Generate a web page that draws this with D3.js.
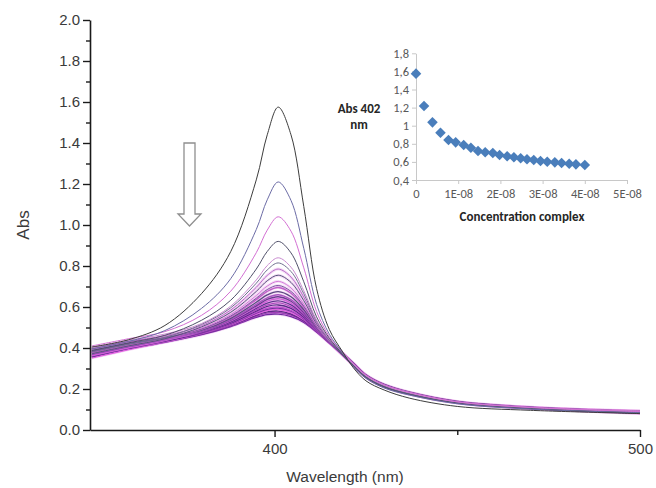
<!DOCTYPE html>
<html><head><meta charset="utf-8">
<script src="https://cdn.jsdelivr.net/npm/d3@7/dist/d3.min.js"></script>
<style>body{margin:0;background:#fff}svg{display:block}</style>
</head><body><svg id="c" width="656" height="488"></svg>
<script>
// ---------- data ----------
const wavelengths = [350,360,370,380,388,395,398,401,404.5,408,411.5,415,418.5,421.5,425,430,437,450,470,500];
const spectra = [
 [0.405,0.440,0.510,0.665,0.870,1.220,1.440,1.575,1.440,1.090,0.690,0.490,0.385,0.305,0.240,0.195,0.155,0.115,0.096,0.080],
 [0.395,0.432,0.485,0.593,0.738,0.978,1.123,1.210,1.120,0.886,0.613,0.467,0.380,0.310,0.252,0.205,0.170,0.128,0.102,0.084],
 [0.410,0.445,0.480,0.559,0.677,0.865,0.975,1.040,0.970,0.791,0.578,0.456,0.381,0.325,0.267,0.220,0.183,0.137,0.110,0.090],
 [0.388,0.425,0.462,0.535,0.633,0.785,0.871,0.920,0.864,0.723,0.552,0.448,0.372,0.315,0.257,0.210,0.174,0.132,0.105,0.082],
 [0.402,0.438,0.468,0.519,0.604,0.732,0.802,0.840,0.794,0.679,0.536,0.443,0.377,0.323,0.265,0.218,0.181,0.136,0.109,0.092],
 [0.380,0.418,0.452,0.515,0.596,0.716,0.781,0.815,0.773,0.665,0.531,0.441,0.372,0.318,0.260,0.213,0.176,0.133,0.106,0.086],
 [0.398,0.433,0.460,0.509,0.585,0.696,0.754,0.785,0.746,0.648,0.524,0.439,0.378,0.326,0.268,0.221,0.183,0.138,0.111,0.089],
 [0.372,0.410,0.445,0.503,0.574,0.676,0.728,0.755,0.720,0.631,0.518,0.437,0.370,0.317,0.259,0.212,0.175,0.133,0.106,0.080],
 [0.392,0.428,0.455,0.497,0.563,0.656,0.702,0.725,0.693,0.614,0.511,0.435,0.374,0.322,0.264,0.217,0.180,0.136,0.108,0.091],
 [0.385,0.420,0.450,0.493,0.556,0.643,0.685,0.705,0.676,0.604,0.507,0.434,0.371,0.319,0.261,0.214,0.177,0.134,0.107,0.085],
 [0.378,0.414,0.446,0.491,0.552,0.636,0.676,0.695,0.667,0.598,0.505,0.433,0.375,0.324,0.266,0.219,0.182,0.137,0.110,0.093],
 [0.395,0.430,0.452,0.487,0.545,0.623,0.659,0.675,0.650,0.587,0.501,0.432,0.368,0.316,0.258,0.211,0.174,0.132,0.105,0.083],
 [0.370,0.408,0.440,0.484,0.539,0.613,0.645,0.660,0.636,0.578,0.498,0.431,0.372,0.321,0.263,0.216,0.179,0.135,0.108,0.088],
 [0.388,0.422,0.447,0.482,0.536,0.606,0.637,0.650,0.628,0.572,0.496,0.430,0.377,0.327,0.269,0.222,0.184,0.139,0.111,0.090],
 [0.362,0.400,0.436,0.480,0.532,0.600,0.628,0.640,0.619,0.567,0.494,0.430,0.369,0.318,0.260,0.213,0.176,0.133,0.106,0.084],
 [0.382,0.418,0.445,0.478,0.528,0.593,0.619,0.630,0.610,0.561,0.492,0.429,0.373,0.323,0.265,0.218,0.181,0.136,0.109,0.087],
 [0.375,0.412,0.440,0.476,0.525,0.586,0.610,0.620,0.601,0.556,0.489,0.429,0.371,0.320,0.262,0.215,0.178,0.135,0.108,0.092],
 [0.358,0.398,0.433,0.474,0.521,0.580,0.603,0.610,0.593,0.550,0.488,0.428,0.374,0.325,0.267,0.220,0.182,0.137,0.110,0.086],
 [0.385,0.420,0.443,0.472,0.518,0.574,0.594,0.600,0.584,0.545,0.485,0.427,0.368,0.317,0.259,0.212,0.175,0.133,0.106,0.081],
 [0.368,0.405,0.437,0.471,0.516,0.570,0.589,0.595,0.580,0.542,0.484,0.427,0.372,0.322,0.264,0.217,0.180,0.136,0.109,0.089],
 [0.352,0.392,0.430,0.470,0.513,0.565,0.583,0.588,0.573,0.538,0.483,0.426,0.369,0.319,0.261,0.214,0.177,0.134,0.107,0.085],
 [0.378,0.412,0.438,0.468,0.510,0.560,0.576,0.580,0.566,0.533,0.481,0.426,0.373,0.324,0.266,0.219,0.182,0.137,0.109,0.091],
 [0.362,0.402,0.433,0.467,0.508,0.555,0.570,0.573,0.560,0.530,0.480,0.425,0.371,0.321,0.263,0.216,0.179,0.135,0.108,0.087],
 [0.355,0.395,0.428,0.465,0.505,0.550,0.563,0.565,0.553,0.525,0.478,0.425,0.370,0.320,0.262,0.215,0.178,0.135,0.108,0.088]
];
const curveColors = ["#3d3d3d","#6c6ca6","#d36fd3","#50506a","#c98ad0","#6f6f8f","#b66cc6","#55557a",
  "#d27ad8","#7a5aa0","#c060c8","#5a4a80","#a855c0","#6a3a90","#d060d8","#603090",
  "#b048c0","#5a2a88","#c050d0","#70309a","#e060e0","#602888","#a040b8","#7028a0"];
const yMajorTicks = [0,0.2,0.4,0.6,0.8,1.0,1.2,1.4,1.6,1.8,2.0];
const yMinorTicks = [0.1,0.3,0.5,0.7,0.9,1.1,1.3,1.5,1.7,1.9];
const xMajorTicks = [400,500];
const xMinorTicks = [450];

const insetConc = [0,0.19e-8,0.39e-8,0.58e-8,0.77e-8,0.94e-8,1.13e-8,1.30e-8,1.47e-8,1.64e-8,1.82e-8,1.98e-8,
  2.16e-8,2.32e-8,2.48e-8,2.63e-8,2.79e-8,2.95e-8,3.11e-8,3.29e-8,3.45e-8,3.63e-8,3.79e-8,4.00e-8];
const insetAbs = [1.575,1.218,1.037,0.923,0.842,0.816,0.787,0.757,0.720,0.706,0.698,0.676,
  0.662,0.651,0.640,0.629,0.621,0.610,0.602,0.595,0.588,0.580,0.573,0.566];
const insetYTicks = [0.4,0.6,0.8,1.0,1.2,1.4,1.6,1.8];
const insetYLabels = ["0,4","0,6","0,8","1","1,2","1,4","1,6","1,8"];
const insetXTicks = [0,1e-8,2e-8,3e-8,4e-8,5e-8];
const insetXLabels = ["0","1E-08","2E-08","3E-08","4E-08","5E-08"];

// ---------- main chart ----------
const svg = d3.select("#c");
const mainFont = "'Liberation Sans', Arial, sans-serif";
const x = d3.scaleLinear().domain([349.5,500]).range([90,640]);
const y = d3.scaleLinear().domain([0,2]).range([430,20]);

const line = d3.line().x((d,i)=>x(wavelengths[i])).y(d=>y(d)).curve(d3.curveCatmullRom.alpha(0.5));

const gCurves = svg.append("g");
// soft pink halo under the dense lower bundle
spectra.forEach((s,i)=>{
  if(i>=6) gCurves.append("path").attr("d",line(s)).attr("fill","none")
    .attr("stroke","#e49ae8").attr("stroke-width",3).attr("stroke-opacity",0.35);
});
spectra.slice().reverse().forEach((s,ri)=>{
  const i = spectra.length-1-ri;
  gCurves.append("path").attr("d",line(s)).attr("fill","none")
    .attr("stroke",curveColors[i]).attr("stroke-width", i>=10?1.4:1.0);
});

// axes
const gy = svg.append("g").attr("transform","translate(90,0)")
  .call(d3.axisLeft(y).tickValues(yMajorTicks).tickFormat(d3.format(".1f")).tickSize(7).tickSizeOuter(0).tickPadding(3));
svg.append("g").attr("transform","translate(90,0)")
  .call(d3.axisLeft(y).tickValues(yMinorTicks).tickFormat("").tickSize(4).tickSizeOuter(0))
  .select(".domain").remove();
const gx = svg.append("g").attr("transform","translate(0,430)")
  .call(d3.axisBottom(x).tickValues(xMajorTicks).tickFormat(d3.format("d")).tickSize(7).tickSizeOuter(0).tickPadding(6));
svg.append("g").attr("transform","translate(0,430)")
  .call(d3.axisBottom(x).tickValues(xMinorTicks).tickFormat("").tickSize(5).tickSizeOuter(0))
  .select(".domain").remove();
svg.selectAll(".domain").attr("stroke","#1a1a1a").attr("stroke-width",1.6);
svg.selectAll(".tick line").attr("stroke","#1a1a1a").attr("stroke-width",1.4);
[gy,gx].forEach(g=>g.selectAll("text").attr("font-family",mainFont).attr("font-size",15).attr("fill","#3a3a3a"));

svg.append("text").attr("transform","translate(29,225) rotate(-90)").attr("text-anchor","middle")
  .attr("font-family",mainFont).attr("font-size",17).attr("fill","#3a3a3a").text("Abs");
svg.append("text").attr("x",345).attr("y",482).attr("text-anchor","middle")
  .attr("font-family",mainFont).attr("font-size",15.5).attr("fill","#3a3a3a").text("Wavelength (nm)");

// hollow arrow
svg.append("path").attr("d","M184,143 L195,143 L195,214 L201,214 L189.5,226 L178,214 L184,214 Z")
  .attr("fill","#fff").attr("stroke","#8f8f8f").attr("stroke-width",1.3);

// ---------- inset ----------
const insetFont = "Carlito, Lato, 'Open Sans', sans-serif";
const ix = d3.scaleLinear().domain([0,5e-8]).range([416,627]);
const iy = d3.scaleLinear().domain([0.4,1.8]).range([180,53.3]);
const gi = svg.append("g");
const iya = gi.append("g").attr("transform","translate(416,0)")
  .call(d3.axisLeft(iy).tickValues(insetYTicks).tickFormat((d,i)=>insetYLabels[i]).tickSize(4).tickSizeOuter(0).tickPadding(3));
const ixa = gi.append("g").attr("transform","translate(0,180)")
  .call(d3.axisBottom(ix).tickValues(insetXTicks).tickFormat((d,i)=>insetXLabels[i]).tickSize(4).tickSizeOuter(0).tickPadding(5));
gi.selectAll(".domain").attr("stroke","#c8c8c8").attr("stroke-width",1);
gi.selectAll(".tick line").attr("stroke","#c8c8c8");
[iya,ixa].forEach(g=>g.selectAll("text").attr("font-family",insetFont).attr("font-size",12.5).attr("fill","#595959"));

gi.selectAll("path.pt").data(insetAbs).enter().append("path").attr("class","pt")
  .attr("d",d3.symbol().type(d3.symbolSquare).size(56))
  .attr("transform",(d,i)=>`translate(${ix(insetConc[i])},${iy(d)}) rotate(45)`)
  .attr("fill","#4a7ebb");

gi.append("text").attr("x",359).attr("y",113).attr("text-anchor","middle")
  .attr("font-family",insetFont).attr("font-weight","bold").attr("font-size",13).attr("fill","#262626").text("Abs 402");
gi.append("text").attr("x",359).attr("y",129).attr("text-anchor","middle")
  .attr("font-family",insetFont).attr("font-weight","bold").attr("font-size",13).attr("fill","#262626").text("nm");
gi.append("text").attr("x",522).attr("y",221).attr("text-anchor","middle")
  .attr("font-family",insetFont).attr("font-weight","bold").attr("font-size",13).attr("fill","#262626").text("Concentration complex");
</script></body></html>
